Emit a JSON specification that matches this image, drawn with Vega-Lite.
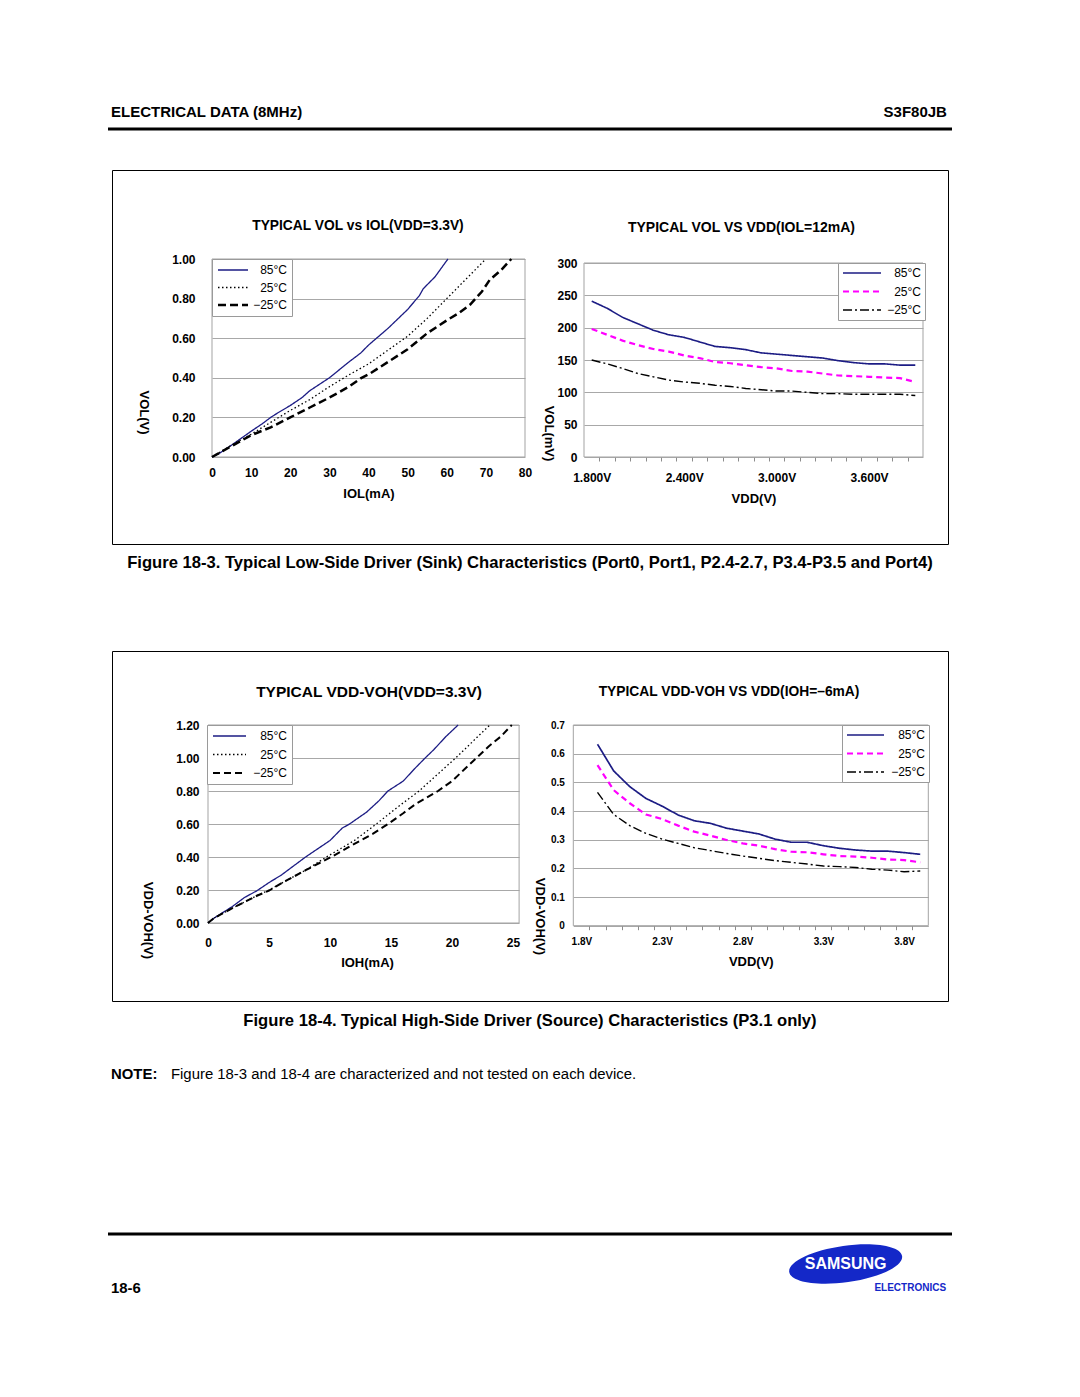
{
  "$schema": "https://vega.github.io/schema/vega-lite/v6.json",
  "background": "white",
  "padding": {"left": 106, "top": 100, "right": 128, "bottom": 97},
  "autosize": {"type": "pad"},
  "bounds": "flush",
  "center": true,
  "spacing": 0,
  "config": {
    "font": "Liberation Sans",
    "view": {"stroke": null},
    "axis": {"labelFont": "Liberation Sans", "labelFontWeight": "bold", "labelFontSize": 12, "labelColor": "black", "titleFont": "Liberation Sans", "titleFontWeight": "bold", "titleFontSize": 13, "titleColor": "black", "domain": false, "ticks": false, "tickSize": 0, "gridColor": "#a8a8a8", "gridWidth": 1, "gridOpacity": 1, "labelOverlap": false, "labelFlush": false, "labelBound": false},
    "legend": {"labelFont": "Liberation Sans", "labelFontSize": 12, "labelColor": "black", "strokeColor": "#9a9a9a", "fillColor": "white", "symbolSize": 100, "labelBaseline": "middle", "labelLimit": 0, "labelAlign": "right"}
  },
  "datasets": {
    "c1": [
      {"IOL": 0, "VOL": 0, "T": "85°C"}, {"IOL": 2, "VOL": 0.02, "T": "85°C"}, {"IOL": 5, "VOL": 0.06, "T": "85°C"}, {"IOL": 10, "VOL": 0.13, "T": "85°C"}, {"IOL": 13, "VOL": 0.17, "T": "85°C"}, {"IOL": 15, "VOL": 0.2, "T": "85°C"}, {"IOL": 17, "VOL": 0.225, "T": "85°C"}, {"IOL": 20, "VOL": 0.26, "T": "85°C"}, {"IOL": 23, "VOL": 0.3, "T": "85°C"}, {"IOL": 25, "VOL": 0.335, "T": "85°C"}, {"IOL": 30, "VOL": 0.4, "T": "85°C"}, {"IOL": 35, "VOL": 0.48, "T": "85°C"}, {"IOL": 38, "VOL": 0.525, "T": "85°C"}, {"IOL": 40, "VOL": 0.565, "T": "85°C"}, {"IOL": 45, "VOL": 0.65, "T": "85°C"}, {"IOL": 50, "VOL": 0.745, "T": "85°C"}, {"IOL": 53, "VOL": 0.815, "T": "85°C"}, {"IOL": 54, "VOL": 0.85, "T": "85°C"}, {"IOL": 57, "VOL": 0.91, "T": "85°C"}, {"IOL": 60.3, "VOL": 1.0, "T": "85°C"},
      {"IOL": 0, "VOL": 0, "T": "25°C"}, {"IOL": 5, "VOL": 0.06, "T": "25°C"}, {"IOL": 10, "VOL": 0.115, "T": "25°C"}, {"IOL": 15, "VOL": 0.175, "T": "25°C"}, {"IOL": 20, "VOL": 0.235, "T": "25°C"}, {"IOL": 25, "VOL": 0.29, "T": "25°C"}, {"IOL": 30, "VOL": 0.355, "T": "25°C"}, {"IOL": 35, "VOL": 0.415, "T": "25°C"}, {"IOL": 40, "VOL": 0.47, "T": "25°C"}, {"IOL": 45, "VOL": 0.54, "T": "25°C"}, {"IOL": 50, "VOL": 0.61, "T": "25°C"}, {"IOL": 55, "VOL": 0.7, "T": "25°C"}, {"IOL": 60, "VOL": 0.8, "T": "25°C"}, {"IOL": 65, "VOL": 0.9, "T": "25°C"}, {"IOL": 70, "VOL": 1.0, "T": "25°C"},
      {"IOL": 0, "VOL": 0, "T": "−25°C"}, {"IOL": 5, "VOL": 0.055, "T": "−25°C"}, {"IOL": 10, "VOL": 0.11, "T": "−25°C"}, {"IOL": 15, "VOL": 0.15, "T": "−25°C"}, {"IOL": 20, "VOL": 0.2, "T": "−25°C"}, {"IOL": 25, "VOL": 0.25, "T": "−25°C"}, {"IOL": 30, "VOL": 0.3, "T": "−25°C"}, {"IOL": 35, "VOL": 0.355, "T": "−25°C"}, {"IOL": 38, "VOL": 0.397, "T": "−25°C"}, {"IOL": 40, "VOL": 0.417, "T": "−25°C"}, {"IOL": 45, "VOL": 0.48, "T": "−25°C"}, {"IOL": 50, "VOL": 0.544, "T": "−25°C"}, {"IOL": 55, "VOL": 0.625, "T": "−25°C"}, {"IOL": 60, "VOL": 0.69, "T": "−25°C"}, {"IOL": 63, "VOL": 0.726, "T": "−25°C"}, {"IOL": 66, "VOL": 0.77, "T": "−25°C"}, {"IOL": 69, "VOL": 0.836, "T": "−25°C"}, {"IOL": 71, "VOL": 0.895, "T": "−25°C"}, {"IOL": 74, "VOL": 0.946, "T": "−25°C"}, {"IOL": 76.5, "VOL": 1.0, "T": "−25°C"}
    ],
    "c2": [
      {"VDD": 1.8, "VOL": 241, "T": "85°C"}, {"VDD": 1.9, "VOL": 230, "T": "85°C"}, {"VDD": 2.0, "VOL": 216, "T": "85°C"}, {"VDD": 2.1, "VOL": 206, "T": "85°C"}, {"VDD": 2.2, "VOL": 196, "T": "85°C"}, {"VDD": 2.3, "VOL": 189, "T": "85°C"}, {"VDD": 2.4, "VOL": 185, "T": "85°C"}, {"VDD": 2.5, "VOL": 178, "T": "85°C"}, {"VDD": 2.6, "VOL": 171, "T": "85°C"}, {"VDD": 2.7, "VOL": 169, "T": "85°C"}, {"VDD": 2.8, "VOL": 166, "T": "85°C"}, {"VDD": 2.9, "VOL": 161, "T": "85°C"}, {"VDD": 3.0, "VOL": 159, "T": "85°C"}, {"VDD": 3.1, "VOL": 157, "T": "85°C"}, {"VDD": 3.2, "VOL": 155, "T": "85°C"}, {"VDD": 3.3, "VOL": 153, "T": "85°C"}, {"VDD": 3.4, "VOL": 149, "T": "85°C"}, {"VDD": 3.5, "VOL": 146, "T": "85°C"}, {"VDD": 3.6, "VOL": 144, "T": "85°C"}, {"VDD": 3.7, "VOL": 144, "T": "85°C"}, {"VDD": 3.8, "VOL": 142, "T": "85°C"}, {"VDD": 3.9, "VOL": 142, "T": "85°C"},
      {"VDD": 1.8, "VOL": 198, "T": "25°C"}, {"VDD": 1.9, "VOL": 189, "T": "25°C"}, {"VDD": 2.0, "VOL": 180, "T": "25°C"}, {"VDD": 2.1, "VOL": 173, "T": "25°C"}, {"VDD": 2.2, "VOL": 167, "T": "25°C"}, {"VDD": 2.3, "VOL": 163, "T": "25°C"}, {"VDD": 2.4, "VOL": 157, "T": "25°C"}, {"VDD": 2.5, "VOL": 153, "T": "25°C"}, {"VDD": 2.6, "VOL": 147, "T": "25°C"}, {"VDD": 2.7, "VOL": 145, "T": "25°C"}, {"VDD": 2.8, "VOL": 142, "T": "25°C"}, {"VDD": 2.9, "VOL": 139, "T": "25°C"}, {"VDD": 3.0, "VOL": 137, "T": "25°C"}, {"VDD": 3.1, "VOL": 133, "T": "25°C"}, {"VDD": 3.2, "VOL": 132, "T": "25°C"}, {"VDD": 3.3, "VOL": 129, "T": "25°C"}, {"VDD": 3.4, "VOL": 126, "T": "25°C"}, {"VDD": 3.5, "VOL": 125, "T": "25°C"}, {"VDD": 3.6, "VOL": 124, "T": "25°C"}, {"VDD": 3.7, "VOL": 123, "T": "25°C"}, {"VDD": 3.8, "VOL": 122, "T": "25°C"}, {"VDD": 3.9, "VOL": 116, "T": "25°C"},
      {"VDD": 1.8, "VOL": 150, "T": "−25°C"}, {"VDD": 1.9, "VOL": 144, "T": "−25°C"}, {"VDD": 2.0, "VOL": 137, "T": "−25°C"}, {"VDD": 2.1, "VOL": 129, "T": "−25°C"}, {"VDD": 2.2, "VOL": 124, "T": "−25°C"}, {"VDD": 2.3, "VOL": 119, "T": "−25°C"}, {"VDD": 2.4, "VOL": 116, "T": "−25°C"}, {"VDD": 2.5, "VOL": 114, "T": "−25°C"}, {"VDD": 2.6, "VOL": 111, "T": "−25°C"}, {"VDD": 2.7, "VOL": 109, "T": "−25°C"}, {"VDD": 2.8, "VOL": 106, "T": "−25°C"}, {"VDD": 2.9, "VOL": 104, "T": "−25°C"}, {"VDD": 3.0, "VOL": 102, "T": "−25°C"}, {"VDD": 3.1, "VOL": 102, "T": "−25°C"}, {"VDD": 3.2, "VOL": 100, "T": "−25°C"}, {"VDD": 3.3, "VOL": 98, "T": "−25°C"}, {"VDD": 3.4, "VOL": 98, "T": "−25°C"}, {"VDD": 3.5, "VOL": 97, "T": "−25°C"}, {"VDD": 3.6, "VOL": 97, "T": "−25°C"}, {"VDD": 3.7, "VOL": 97, "T": "−25°C"}, {"VDD": 3.8, "VOL": 97, "T": "−25°C"}, {"VDD": 3.9, "VOL": 95, "T": "−25°C"}
    ],
    "c3": [
      {"IOH": 0, "V": 0, "T": "85°C"}, {"IOH": 0.5, "V": 0.03, "T": "85°C"}, {"IOH": 2, "V": 0.1, "T": "85°C"}, {"IOH": 3, "V": 0.155, "T": "85°C"}, {"IOH": 4, "V": 0.195, "T": "85°C"}, {"IOH": 5, "V": 0.245, "T": "85°C"}, {"IOH": 6, "V": 0.29, "T": "85°C"}, {"IOH": 8, "V": 0.4, "T": "85°C"}, {"IOH": 10, "V": 0.5, "T": "85°C"}, {"IOH": 11, "V": 0.575, "T": "85°C"}, {"IOH": 11.6, "V": 0.6, "T": "85°C"}, {"IOH": 13, "V": 0.672, "T": "85°C"}, {"IOH": 14, "V": 0.74, "T": "85°C"}, {"IOH": 14.75, "V": 0.8, "T": "85°C"}, {"IOH": 16, "V": 0.86, "T": "85°C"}, {"IOH": 17, "V": 0.94, "T": "85°C"}, {"IOH": 17.8, "V": 1.0, "T": "85°C"}, {"IOH": 18.5, "V": 1.05, "T": "85°C"}, {"IOH": 19.5, "V": 1.13, "T": "85°C"}, {"IOH": 20.5, "V": 1.2, "T": "85°C"},
      {"IOH": 0, "V": 0, "T": "25°C"}, {"IOH": 0.5, "V": 0.03, "T": "25°C"}, {"IOH": 2, "V": 0.09, "T": "25°C"}, {"IOH": 4, "V": 0.165, "T": "25°C"}, {"IOH": 5, "V": 0.2, "T": "25°C"}, {"IOH": 6, "V": 0.24, "T": "25°C"}, {"IOH": 8, "V": 0.32, "T": "25°C"}, {"IOH": 9.7, "V": 0.4, "T": "25°C"}, {"IOH": 12, "V": 0.5, "T": "25°C"}, {"IOH": 13.8, "V": 0.6, "T": "25°C"}, {"IOH": 15.5, "V": 0.7, "T": "25°C"}, {"IOH": 17.3, "V": 0.8, "T": "25°C"}, {"IOH": 18.8, "V": 0.9, "T": "25°C"}, {"IOH": 20.3, "V": 1.0, "T": "25°C"}, {"IOH": 21.7, "V": 1.1, "T": "25°C"}, {"IOH": 23.1, "V": 1.2, "T": "25°C"},
      {"IOH": 0, "V": 0, "T": "−25°C"}, {"IOH": 0.5, "V": 0.03, "T": "−25°C"}, {"IOH": 2, "V": 0.09, "T": "−25°C"}, {"IOH": 4, "V": 0.165, "T": "−25°C"}, {"IOH": 5, "V": 0.196, "T": "−25°C"}, {"IOH": 6, "V": 0.24, "T": "−25°C"}, {"IOH": 8, "V": 0.32, "T": "−25°C"}, {"IOH": 10.1, "V": 0.4, "T": "−25°C"}, {"IOH": 12, "V": 0.48, "T": "−25°C"}, {"IOH": 13.5, "V": 0.54, "T": "−25°C"}, {"IOH": 14.75, "V": 0.6, "T": "−25°C"}, {"IOH": 16, "V": 0.665, "T": "−25°C"}, {"IOH": 17, "V": 0.72, "T": "−25°C"}, {"IOH": 18.85, "V": 0.8, "T": "−25°C"}, {"IOH": 20, "V": 0.86, "T": "−25°C"}, {"IOH": 21, "V": 0.93, "T": "−25°C"}, {"IOH": 22, "V": 1.0, "T": "−25°C"}, {"IOH": 23, "V": 1.07, "T": "−25°C"}, {"IOH": 24, "V": 1.13, "T": "−25°C"}, {"IOH": 24.9, "V": 1.2, "T": "−25°C"}
    ],
    "c4": [
      {"VDD": 1.9, "V": 0.633, "T": "85°C"}, {"VDD": 2.0, "V": 0.54, "T": "85°C"}, {"VDD": 2.1, "V": 0.485, "T": "85°C"}, {"VDD": 2.2, "V": 0.444, "T": "85°C"}, {"VDD": 2.3, "V": 0.417, "T": "85°C"}, {"VDD": 2.4, "V": 0.386, "T": "85°C"}, {"VDD": 2.5, "V": 0.366, "T": "85°C"}, {"VDD": 2.6, "V": 0.357, "T": "85°C"}, {"VDD": 2.7, "V": 0.34, "T": "85°C"}, {"VDD": 2.8, "V": 0.33, "T": "85°C"}, {"VDD": 2.9, "V": 0.32, "T": "85°C"}, {"VDD": 3.0, "V": 0.302, "T": "85°C"}, {"VDD": 3.1, "V": 0.291, "T": "85°C"}, {"VDD": 3.2, "V": 0.291, "T": "85°C"}, {"VDD": 3.3, "V": 0.279, "T": "85°C"}, {"VDD": 3.4, "V": 0.27, "T": "85°C"}, {"VDD": 3.5, "V": 0.264, "T": "85°C"}, {"VDD": 3.6, "V": 0.26, "T": "85°C"}, {"VDD": 3.7, "V": 0.26, "T": "85°C"}, {"VDD": 3.8, "V": 0.255, "T": "85°C"}, {"VDD": 3.9, "V": 0.249, "T": "85°C"},
      {"VDD": 1.9, "V": 0.56, "T": "25°C"}, {"VDD": 2.0, "V": 0.473, "T": "25°C"}, {"VDD": 2.1, "V": 0.427, "T": "25°C"}, {"VDD": 2.2, "V": 0.388, "T": "25°C"}, {"VDD": 2.3, "V": 0.372, "T": "25°C"}, {"VDD": 2.4, "V": 0.349, "T": "25°C"}, {"VDD": 2.5, "V": 0.328, "T": "25°C"}, {"VDD": 2.6, "V": 0.314, "T": "25°C"}, {"VDD": 2.7, "V": 0.299, "T": "25°C"}, {"VDD": 2.8, "V": 0.287, "T": "25°C"}, {"VDD": 2.9, "V": 0.279, "T": "25°C"}, {"VDD": 3.0, "V": 0.267, "T": "25°C"}, {"VDD": 3.1, "V": 0.258, "T": "25°C"}, {"VDD": 3.2, "V": 0.256, "T": "25°C"}, {"VDD": 3.3, "V": 0.249, "T": "25°C"}, {"VDD": 3.4, "V": 0.243, "T": "25°C"}, {"VDD": 3.5, "V": 0.241, "T": "25°C"}, {"VDD": 3.6, "V": 0.237, "T": "25°C"}, {"VDD": 3.7, "V": 0.231, "T": "25°C"}, {"VDD": 3.8, "V": 0.229, "T": "25°C"}, {"VDD": 3.9, "V": 0.221, "T": "25°C"},
      {"VDD": 1.9, "V": 0.465, "T": "−25°C"}, {"VDD": 2.0, "V": 0.388, "T": "−25°C"}, {"VDD": 2.1, "V": 0.349, "T": "−25°C"}, {"VDD": 2.2, "V": 0.322, "T": "−25°C"}, {"VDD": 2.3, "V": 0.302, "T": "−25°C"}, {"VDD": 2.4, "V": 0.287, "T": "−25°C"}, {"VDD": 2.5, "V": 0.272, "T": "−25°C"}, {"VDD": 2.6, "V": 0.262, "T": "−25°C"}, {"VDD": 2.7, "V": 0.252, "T": "−25°C"}, {"VDD": 2.8, "V": 0.243, "T": "−25°C"}, {"VDD": 2.9, "V": 0.235, "T": "−25°C"}, {"VDD": 3.0, "V": 0.227, "T": "−25°C"}, {"VDD": 3.1, "V": 0.221, "T": "−25°C"}, {"VDD": 3.2, "V": 0.215, "T": "−25°C"}, {"VDD": 3.3, "V": 0.208, "T": "−25°C"}, {"VDD": 3.4, "V": 0.206, "T": "−25°C"}, {"VDD": 3.5, "V": 0.203, "T": "−25°C"}, {"VDD": 3.6, "V": 0.197, "T": "−25°C"}, {"VDD": 3.7, "V": 0.194, "T": "−25°C"}, {"VDD": 3.8, "V": 0.188, "T": "−25°C"}, {"VDD": 3.9, "V": 0.191, "T": "−25°C"}
    ]
  },
  "vconcat": [
    {
      "width": 844, "height": 70,
      "data": {"values": [{"left": "ELECTRICAL DATA (8MHz)", "right": "S3F80JB"}]},
      "layer": [
        {"mark": {"type": "rule", "stroke": "black", "strokeWidth": 3},
         "encoding": {"x": {"datum": 0, "type": "quantitative", "scale": {"domain": [0, 1]}, "axis": null}, "x2": {"datum": 1}, "y": {"datum": 0.586, "type": "quantitative", "scale": {"domain": [0, 1]}, "axis": null}}},
        {"mark": {"type": "text", "align": "left", "baseline": "middle", "fontSize": 15, "fontWeight": "bold", "color": "black"},
         "encoding": {"x": {"datum": 0.0036, "type": "quantitative", "axis": null}, "y": {"datum": 0.826, "type": "quantitative", "axis": null}, "text": {"field": "left"}}},
        {"mark": {"type": "text", "align": "right", "baseline": "middle", "fontSize": 15, "fontWeight": "bold", "color": "black"},
         "encoding": {"x": {"datum": 0.994, "type": "quantitative", "axis": null}, "y": {"datum": 0.826, "type": "quantitative", "axis": null}, "text": {"field": "right"}}}
      ]
    },
    {
      "width": 836, "height": 374,
      "view": {"stroke": "black", "strokeWidth": 1},
      "resolve": {"scale": {"x": "independent", "y": "independent", "color": "independent", "strokeDash": "independent"}, "axis": {"x": "independent", "y": "independent"}, "legend": {"color": "independent", "strokeDash": "independent"}},
      "layer": [
        {"data": {"values": [{"title": "TYPICAL VOL vs IOL(VDD=3.3V)"}]},
         "mark": {"type": "rect", "filled": false, "stroke": "#a3a3a3", "strokeWidth": 1},
         "encoding": {"x": {"datum": 0, "type": "quantitative", "scale": {"domain": [0, 80], "range": [100, 413], "nice": false, "zero": false}, "axis": null}, "x2": {"datum": 80},
                      "y": {"datum": 0, "type": "quantitative", "scale": {"domain": [0, 1], "range": [287, 89], "nice": false, "zero": false}, "axis": null}, "y2": {"datum": 1}}},
        {"data": {"name": "c1"},
         "mark": {"type": "line"},
         "encoding": {
           "x": {"field": "IOL", "type": "quantitative", "scale": {"domain": [0, 80], "range": [100, 413], "nice": false, "zero": false},
                 "axis": {"orient": "bottom", "offset": -87, "values": [0, 10, 20, 30, 40, 50, 60, 70, 80], "format": "d", "labelPadding": 10, "grid": false, "title": "IOL(mA)", "titleY": 30, "titleBaseline": "top"}},
           "y": {"field": "VOL", "type": "quantitative", "scale": {"domain": [0, 1], "range": [287, 89], "nice": false, "zero": false},
                 "axis": {"orient": "left", "offset": -100, "values": [0, 0.2, 0.4, 0.6, 0.8, 1.0], "format": ".2f", "labelPadding": 17, "grid": true, "title": "VOL(V)", "titleAngle": 90, "titleX": -69, "titleY": 242, "titleAlign": "center", "titleBaseline": "middle"}},
           "color": {"field": "T", "type": "nominal", "scale": {"domain": ["85°C", "25°C", "−25°C"], "range": ["#1c1c84", "#000000", "#000000"]},
                     "legend": {"title": null, "orient": "none", "legendX": 100, "legendY": 89, "padding": 5, "symbolType": "M -1 0 H 5", "symbolSize": 100, "labelOffset": 58, "rowPadding": 5.5, "encode": {"symbols": {"update": {"strokeWidth": {"signal": "datum.value === '−25°C' ? 2.5 : 1.3"}}}}}},
           "strokeDash": {"field": "T", "type": "nominal", "scale": {"domain": ["85°C", "25°C", "−25°C"], "range": [[1, 0], [1.5, 2.5], [8, 4]]},
                     "legend": {"title": null, "orient": "none", "legendX": 100, "legendY": 89, "padding": 5, "symbolType": "M -1 0 H 5", "symbolSize": 100, "labelOffset": 58, "rowPadding": 5.5}},
           "strokeWidth": {"condition": {"test": "datum.T === '−25°C'", "value": 2.5}, "value": 1.3}
         }},
        {"data": {"values": [{"title": "TYPICAL VOL vs IOL(VDD=3.3V)"}]},
         "mark": {"type": "text", "fontSize": 13.8, "fontWeight": "bold", "baseline": "middle", "color": "black"},
         "encoding": {"x": {"datum": 37.3, "type": "quantitative", "scale": {"domain": [0, 80], "range": [100, 413], "nice": false, "zero": false}, "axis": null},
                      "y": {"datum": 1.167, "type": "quantitative", "scale": {"domain": [0, 1], "range": [287, 89], "nice": false, "zero": false}, "axis": null}, "text": {"field": "title"}}},
        {"data": {"values": [{"title": "TYPICAL VOL VS VDD(IOL=12mA)"}]},
         "mark": {"type": "rect", "filled": false, "stroke": "#a3a3a3", "strokeWidth": 1},
         "encoding": {"x": {"datum": 1.75, "type": "quantitative", "scale": {"domain": [1.75, 3.95], "range": [472, 811], "nice": false, "zero": false}, "axis": null}, "x2": {"datum": 3.95},
                      "y": {"datum": 0, "type": "quantitative", "scale": {"domain": [0, 300], "range": [287, 93], "nice": false, "zero": false}, "axis": null}, "y2": {"datum": 300}}},
        {"data": {"name": "c2"},
         "mark": {"type": "line"},
         "encoding": {
           "x": {"field": "VDD", "type": "quantitative", "scale": {"domain": [1.75, 3.95], "range": [472, 811], "nice": false, "zero": false},
                 "axis": {"orient": "bottom", "offset": -87, "values": [1.85, 1.95, 2.05, 2.15, 2.25, 2.35, 2.45, 2.55, 2.65, 2.75, 2.85, 2.95, 3.05, 3.15, 3.25, 3.35, 3.45, 3.55, 3.65, 3.75, 3.85], "ticks": true, "tickSize": 4, "tickColor": "#8c8c8c", "labelPadding": 11, "labelOffset": -7.7, "labelExpr": "round((datum.value - 1.85) * 10) % 6 == 0 ? format(datum.value - 0.05, '.3f') + 'V' : ''", "grid": false, "title": "VDD(V)", "titleY": 35, "titleBaseline": "top"}},
           "y": {"field": "VOL", "type": "quantitative", "scale": {"domain": [0, 300], "range": [287, 93], "nice": false, "zero": false},
                 "axis": {"orient": "left", "offset": -472, "values": [0, 50, 100, 150, 200, 250, 300], "format": "d", "labelPadding": 7, "grid": true, "title": "VOL(mV)", "titleAngle": 90, "titleX": -36, "titleY": 263, "titleAlign": "center", "titleBaseline": "middle"}},
           "color": {"field": "T", "type": "nominal", "scale": {"domain": ["85°C", "25°C", "−25°C"], "range": ["#1c1c84", "#ff00ff", "#000000"]},
                     "legend": {"title": null, "orient": "none", "legendX": 726, "legendY": 93, "padding": 4, "symbolType": "M -1 0 H 6.6", "symbolSize": 100, "labelOffset": 67, "rowPadding": 6.5, "encode": {"symbols": {"update": {"strokeWidth": {"signal": "datum.value === '25°C' ? 2 : 1.5"}}}}}},
           "strokeDash": {"field": "T", "type": "nominal", "scale": {"domain": ["85°C", "25°C", "−25°C"], "range": [[1, 0], [6, 4], [9, 3, 2, 3]]},
                     "legend": {"title": null, "orient": "none", "legendX": 726, "legendY": 93, "padding": 4, "symbolType": "M -1 0 H 6.6", "symbolSize": 100, "labelOffset": 67, "rowPadding": 6.5}},
           "strokeWidth": {"condition": [{"test": "datum.T === '25°C'", "value": 2.2}, {"test": "datum.T === '−25°C'", "value": 1.4}], "value": 1.6}
         }},
        {"data": {"values": [{"title": "TYPICAL VOL VS VDD(IOL=12mA)"}]},
         "mark": {"type": "text", "fontSize": 14, "fontWeight": "bold", "baseline": "middle", "color": "black"},
         "encoding": {"x": {"datum": 2.772, "type": "quantitative", "scale": {"domain": [1.75, 3.95], "range": [472, 811], "nice": false, "zero": false}, "axis": null},
                      "y": {"datum": 354, "type": "quantitative", "scale": {"domain": [0, 300], "range": [287, 93], "nice": false, "zero": false}, "axis": null}, "text": {"field": "title"}}}
      ]
    },
    {
      "width": 844, "height": 107,
      "data": {"values": [{"caption": "Figure 18-3. Typical Low-Side Driver (Sink) Characteristics (Port0, Port1, P2.4-2.7, P3.4-P3.5 and Port4)"}]},
      "mark": {"type": "text", "fontSize": 16.6, "fontWeight": "bold", "baseline": "middle", "color": "black"},
      "encoding": {"y": {"datum": 0.822, "type": "quantitative", "scale": {"domain": [0, 1]}, "axis": null}, "text": {"field": "caption"}}
    },
    {
      "width": 836, "height": 350,
      "view": {"stroke": "black", "strokeWidth": 1},
      "resolve": {"scale": {"x": "independent", "y": "independent", "color": "independent", "strokeDash": "independent"}, "axis": {"x": "independent", "y": "independent"}, "legend": {"color": "independent", "strokeDash": "independent"}},
      "layer": [
        {"data": {"values": [{"title": "TYPICAL VDD-VOH(VDD=3.3V)"}]},
         "mark": {"type": "rect", "filled": false, "stroke": "#a3a3a3", "strokeWidth": 1},
         "encoding": {"x": {"datum": 0, "type": "quantitative", "scale": {"domain": [0, 25.5], "range": [96, 407.1], "nice": false, "zero": false}, "axis": null}, "x2": {"datum": 25.5},
                      "y": {"datum": 0, "type": "quantitative", "scale": {"domain": [0, 1.2], "range": [272, 74], "nice": false, "zero": false}, "axis": null}, "y2": {"datum": 1.2}}},
        {"data": {"name": "c3"},
         "mark": {"type": "line"},
         "encoding": {
           "x": {"field": "IOH", "type": "quantitative", "scale": {"domain": [0, 25.5], "range": [96, 407.1], "nice": false, "zero": false},
                 "axis": {"orient": "bottom", "offset": -78, "values": [0, 5, 10, 15, 20, 25], "format": "d", "labelPadding": 14, "grid": false, "title": "IOH(mA)", "titleX": 255, "titleY": 33, "titleBaseline": "top"}},
           "y": {"field": "V", "type": "quantitative", "scale": {"domain": [0, 1.2], "range": [272, 74], "nice": false, "zero": false},
                 "axis": {"orient": "left", "offset": -96, "values": [0, 0.2, 0.4, 0.6, 0.8, 1.0, 1.2], "format": ".2f", "labelPadding": 9, "grid": true, "title": "VDD-VOH(V)", "titleAngle": 90, "titleX": -61, "titleY": 269, "titleAlign": "center", "titleBaseline": "middle"}},
           "color": {"field": "T", "type": "nominal", "scale": {"domain": ["85°C", "25°C", "−25°C"], "range": ["#1c1c84", "#000000", "#000000"]},
                     "legend": {"title": null, "orient": "none", "legendX": 95, "legendY": 74, "padding": 5, "symbolType": "M -1 0 H 5.6", "symbolSize": 100, "labelOffset": 63, "rowPadding": 6.5, "encode": {"symbols": {"update": {"strokeWidth": {"signal": "datum.value === '−25°C' ? 2 : 1.3"}}}}}},
           "strokeDash": {"field": "T", "type": "nominal", "scale": {"domain": ["85°C", "25°C", "−25°C"], "range": [[1, 0], [1.5, 2.5], [7, 4]]},
                     "legend": {"title": null, "orient": "none", "legendX": 95, "legendY": 74, "padding": 5, "symbolType": "M -1 0 H 5.6", "symbolSize": 100, "labelOffset": 63, "rowPadding": 6.5}},
           "strokeWidth": {"condition": {"test": "datum.T === '−25°C'", "value": 2}, "value": 1.3}
         }},
        {"data": {"values": [{"title": "TYPICAL VDD-VOH(VDD=3.3V)"}]},
         "mark": {"type": "text", "fontSize": 15.5, "fontWeight": "bold", "baseline": "middle", "color": "black"},
         "encoding": {"x": {"datum": 13.2, "type": "quantitative", "scale": {"domain": [0, 25.5], "range": [96, 407.1], "nice": false, "zero": false}, "axis": null},
                      "y": {"datum": 1.4, "type": "quantitative", "scale": {"domain": [0, 1.2], "range": [272, 74], "nice": false, "zero": false}, "axis": null}, "text": {"field": "title"}}},
        {"data": {"values": [{"title": "TYPICAL VDD-VOH VS VDD(IOH=–6mA)"}]},
         "mark": {"type": "rect", "filled": false, "stroke": "#a3a3a3", "strokeWidth": 1},
         "encoding": {"x": {"datum": 1.75, "type": "quantitative", "scale": {"domain": [1.75, 3.95], "range": [461.3, 816.3], "nice": false, "zero": false}, "axis": null}, "x2": {"datum": 3.95},
                      "y": {"datum": 0, "type": "quantitative", "scale": {"domain": [0, 0.7], "range": [274.7, 74], "nice": false, "zero": false}, "axis": null}, "y2": {"datum": 0.7}}},
        {"data": {"name": "c4"},
         "mark": {"type": "line"},
         "encoding": {
           "x": {"field": "VDD", "type": "quantitative", "scale": {"domain": [1.75, 3.95], "range": [461.3, 816.3], "nice": false, "zero": false},
                 "axis": {"orient": "bottom", "offset": -75.3, "values": [1.85, 1.95, 2.05, 2.15, 2.25, 2.35, 2.45, 2.55, 2.65, 2.75, 2.85, 2.95, 3.05, 3.15, 3.25, 3.35, 3.45, 3.55, 3.65, 3.75, 3.85], "ticks": true, "tickSize": 4, "tickColor": "#8c8c8c", "labelPadding": 7, "labelFontSize": 10, "labelOffset": -8.07, "labelExpr": "round((datum.value - 1.85) * 10) % 5 == 0 ? format(datum.value - 0.05, '.1f') + 'V' : ''", "grid": false, "title": "VDD(V)", "titleY": 30, "titleBaseline": "top"}},
           "y": {"field": "V", "type": "quantitative", "scale": {"domain": [0, 0.7], "range": [274.7, 74], "nice": false, "zero": false},
                 "axis": {"orient": "left", "offset": -461.3, "values": [0, 0.1, 0.2, 0.3, 0.4, 0.5, 0.6, 0.7], "labelExpr": "datum.value == 0 ? '0' : format(datum.value, '.1f')", "labelFontSize": 10, "labelPadding": 9, "grid": true, "title": "VDD-VOH(V)", "titleAngle": 90, "titleX": -34.3, "titleY": 265, "titleAlign": "center", "titleBaseline": "middle"}},
           "color": {"field": "T", "type": "nominal", "scale": {"domain": ["85°C", "25°C", "−25°C"], "range": ["#1c1c84", "#ff00ff", "#000000"]},
                     "legend": {"title": null, "orient": "none", "legendX": 730, "legendY": 74, "padding": 4, "symbolType": "M -1 0 H 6.4", "symbolSize": 100, "labelOffset": 67, "rowPadding": 6.5, "encode": {"symbols": {"update": {"strokeWidth": {"signal": "datum.value === '25°C' ? 2 : 1.5"}}}}}},
           "strokeDash": {"field": "T", "type": "nominal", "scale": {"domain": ["85°C", "25°C", "−25°C"], "range": [[1, 0], [6, 4], [9, 3, 2, 3]]},
                     "legend": {"title": null, "orient": "none", "legendX": 730, "legendY": 74, "padding": 4, "symbolType": "M -1 0 H 6.4", "symbolSize": 100, "labelOffset": 67, "rowPadding": 6.5}},
           "strokeWidth": {"condition": [{"test": "datum.T === '25°C'", "value": 2.2}, {"test": "datum.T === '−25°C'", "value": 1.4}], "value": 1.7}
         }},
        {"data": {"values": [{"title": "TYPICAL VDD-VOH VS VDD(IOH=–6mA)"}]},
         "mark": {"type": "text", "fontSize": 13.8, "fontWeight": "bold", "baseline": "middle", "color": "black"},
         "encoding": {"x": {"datum": 2.715, "type": "quantitative", "scale": {"domain": [1.75, 3.95], "range": [461.3, 816.3], "nice": false, "zero": false}, "axis": null},
                      "y": {"datum": 0.815, "type": "quantitative", "scale": {"domain": [0, 0.7], "range": [274.7, 74], "nice": false, "zero": false}, "axis": null}, "text": {"field": "title"}}}
      ]
    },
    {
      "width": 844, "height": 233,
      "data": {"values": [{"caption": "Figure 18-4. Typical High-Side Driver (Source) Characteristics (P3.1 only)", "note": "NOTE:", "text": "Figure 18-3 and 18-4 are characterized and not tested on each device."}]},
      "layer": [
        {"mark": {"type": "text", "fontSize": 16.6, "fontWeight": "bold", "baseline": "middle", "color": "black"},
         "encoding": {"y": {"datum": 0.916, "type": "quantitative", "scale": {"domain": [0, 1]}, "axis": null}, "text": {"field": "caption"}}},
        {"mark": {"type": "text", "fontSize": 14.9, "fontWeight": "bold", "align": "left", "baseline": "middle", "color": "black"},
         "encoding": {"x": {"datum": 0.0036, "type": "quantitative", "scale": {"domain": [0, 1]}, "axis": null}, "y": {"datum": 0.682, "type": "quantitative", "axis": null}, "text": {"field": "note"}}},
        {"mark": {"type": "text", "fontSize": 14.9, "align": "left", "baseline": "middle", "color": "black"},
         "encoding": {"x": {"datum": 0.0746, "type": "quantitative", "axis": null}, "y": {"datum": 0.682, "type": "quantitative", "axis": null}, "text": {"field": "text"}}}
      ]
    },
    {
      "width": 844, "height": 66,
      "data": {"values": [{"page": "18-6", "brand": "SAMSUNG", "division": "ELECTRONICS"}]},
      "layer": [
        {"mark": {"type": "rule", "stroke": "black", "strokeWidth": 3},
         "encoding": {"x": {"datum": 0, "type": "quantitative", "scale": {"domain": [0, 1]}, "axis": null}, "x2": {"datum": 1}, "y": {"datum": 1, "type": "quantitative", "scale": {"domain": [0, 1]}, "axis": null}}},
        {"mark": {"type": "text", "fontSize": 14.9, "fontWeight": "bold", "align": "left", "baseline": "middle", "color": "black"},
         "encoding": {"x": {"datum": 0.0036, "type": "quantitative", "axis": null}, "y": {"datum": 0.167, "type": "quantitative", "axis": null}, "text": {"field": "page"}}},
        {"mark": {"type": "point", "shape": "M -1 0 A 1 0.32 0 1 1 1 0 A 1 0.32 0 1 1 -1 0 Z", "size": 12996, "filled": true, "fill": "#1428c8", "opacity": 1, "strokeWidth": 0, "angle": -8},
         "encoding": {"x": {"datum": 0.874, "type": "quantitative", "axis": null}, "y": {"datum": 0.545, "type": "quantitative", "axis": null}}},
        {"mark": {"type": "text", "fontSize": 16, "fontWeight": "bold", "baseline": "middle", "color": "white"},
         "encoding": {"x": {"datum": 0.874, "type": "quantitative", "axis": null}, "y": {"datum": 0.545, "type": "quantitative", "axis": null}, "text": {"field": "brand"}}},
        {"mark": {"type": "text", "fontSize": 10, "fontWeight": "bold", "align": "right", "baseline": "middle", "color": "#1428c8"},
         "encoding": {"x": {"datum": 0.993, "type": "quantitative", "axis": null}, "y": {"datum": 0.18, "type": "quantitative", "axis": null}, "text": {"field": "division"}}}
      ]
    }
  ]
}
